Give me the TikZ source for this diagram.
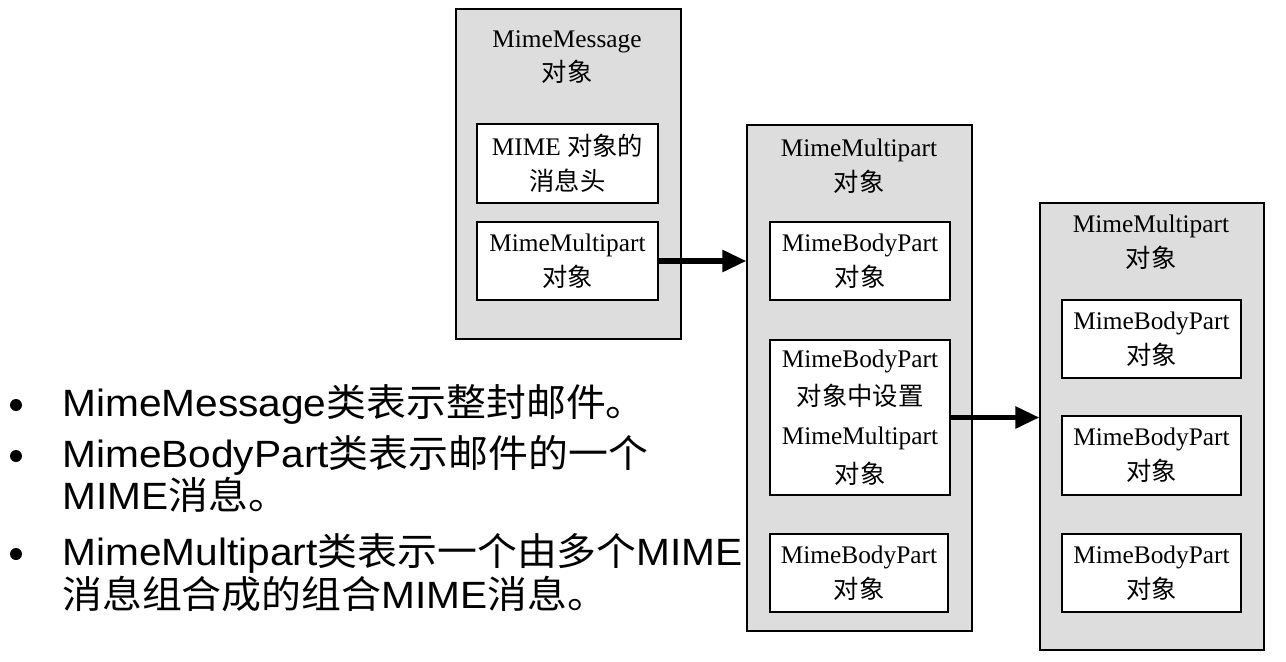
\documentclass[tikz,border=0pt]{standalone}
\usepackage{fontspec}
\setmainfont{Liberation Serif}
\newfontfamily\cjk{Noto Sans CJK SC}
\newfontfamily\arial[FakeStretch=1.07]{Liberation Sans}
\newfontfamily\cjkwide[FakeStretch=1.05]{Noto Sans CJK SC}
\usetikzlibrary{arrows.meta,fit}
\definecolor{boxgray}{RGB}{221,221,221}
\begin{document}
\begin{tikzpicture}[x=0.75pt,y=-0.75pt,
  outerbox/.style={draw=black, fill=boxgray, line width=1.1pt, inner sep=0pt},
  innerbox/.style={draw=black, fill=white, line width=1pt, inner sep=0pt, align=center,
    font=\fontsize{19}{26}\selectfont},
  titletext/.style={inner sep=0pt, align=center, font=\fontsize{19}{26}\selectfont},
  bullettext/.style={inner sep=0pt, anchor=base west, font=\arial\fontsize{28.5}{34}\selectfont},
  bulletdot/.style={circle, fill=black, inner sep=0pt, minimum size=9pt},
  bigarrow/.style={line width=3.8pt, -{Triangle[length=18pt,width=16pt]}}
]
\useasboundingbox (0,0) rectangle (1286,661);

% ---- MimeMessage object
\node[outerbox, fit={(456,9) (681,339)}] (m1) {};
\node[titletext] (t1) at (567,57) {MimeMessage\\{\cjk 对象}};
\node[innerbox, minimum width=135.75pt, minimum height=59.25pt] (h1) at (567.5,163.5)
  {MIME {\cjk 对象的}\\{\cjk 消息头}};
\node[innerbox, minimum width=135.75pt, minimum height=58.5pt] (p1) at (567.5,261)
  {MimeMultipart\\{\cjk 对象}};

% ---- first MimeMultipart object
\node[outerbox, fit={(747,125) (972,631)}] (m2) {};
\node[titletext] (t2) at (859,166) {MimeMultipart\\{\cjk 对象}};
\node[innerbox, minimum width=135pt, minimum height=58.5pt] (a2) at (860,261)
  {MimeBodyPart\\{\cjk 对象}};
\node[innerbox, minimum width=135pt, minimum height=116.25pt,
  font=\fontsize{19}{29}\selectfont] (b2) at (860,417.5)
  {MimeBodyPart\\{\cjk 对象中设置}\\MimeMultipart\\{\cjk 对象}};
\node[innerbox, minimum width=133.5pt, minimum height=58.5pt] (c2) at (859,573)
  {MimeBodyPart\\{\cjk 对象}};

% ---- second MimeMultipart object
\node[outerbox, fit={(1040,203) (1264,650)}] (m3) {};
\node[titletext] (t3) at (1151,242) {MimeMultipart\\{\cjk 对象}};
\node[innerbox, minimum width=134.25pt, minimum height=58.5pt] (a3) at (1151.5,339)
  {MimeBodyPart\\{\cjk 对象}};
\node[innerbox, minimum width=134.25pt, minimum height=59.25pt] (b3) at (1151.5,455.5)
  {MimeBodyPart\\{\cjk 对象}};
\node[innerbox, minimum width=134.25pt, minimum height=58.5pt] (c3) at (1151.5,573)
  {MimeBodyPart\\{\cjk 对象}};

% ---- arrows
\draw[bigarrow] (p1.east) -- (p1.east -| m2.west);
\draw[bigarrow] (b2.east) -- (b2.east -| m3.west);

% ---- bullet list
\node[bulletdot] (d1) at (16,405) {};
\node[bulletdot] (d2) at (16,456) {};
\node[bulletdot] (d3) at (16,554) {};
\node[bullettext] (l1) at (62,416) {MimeMessage{\cjkwide 类表示整封邮件。}};
\node[bullettext] (l2) at (62,467) {MimeBodyPart{\cjkwide 类表示邮件的一个}};
\node[bullettext] (l3) at (62,509) {MIME{\cjkwide 消息。}};
\node[bullettext] (l4) at (62,565) {MimeMultipart{\cjkwide 类表示一个由多个}MIME};
\node[bullettext] (l5) at (62,608) {{\cjkwide 消息组合成的组合}MIME{\cjkwide 消息。}};
\end{tikzpicture}
\end{document}
